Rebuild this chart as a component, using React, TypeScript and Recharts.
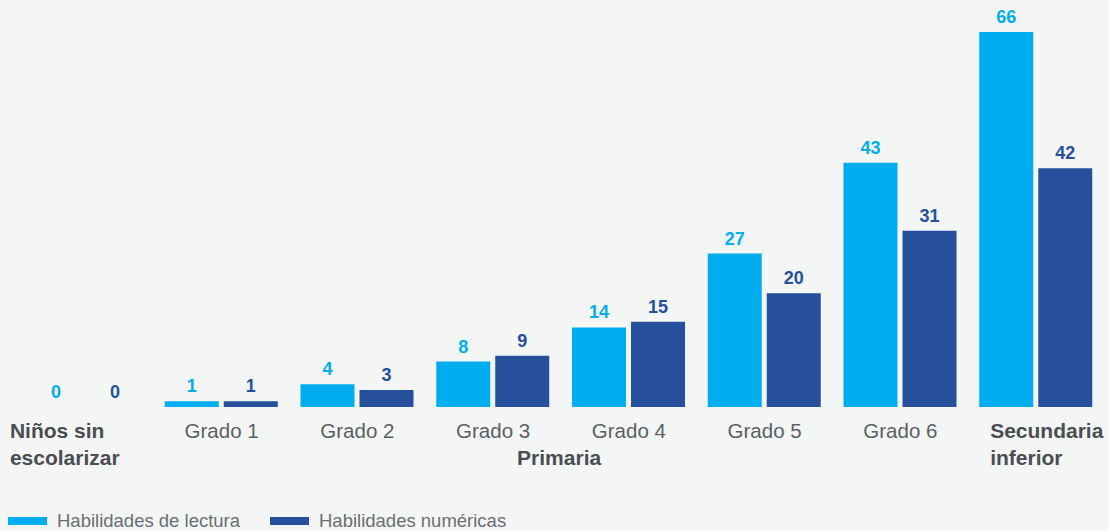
import React from "react";
import { Bar, BarChart, LabelList, XAxis, YAxis } from "recharts";

// Colores del gráfico
const LIGHT = "#00aeef";
const DARK = "#264f9c";
const BG = "#f4f6f6";
const TICK = "#5b5f63";
const BOLD_TICK = "#4a4d52";

const categories = [
  "Niños sin escolarizar",
  "Grado 1",
  "Grado 2",
  "Grado 3",
  "Grado 4",
  "Grado 5",
  "Grado 6",
  "Secundaria inferior",
];
const lectura = [0, 1, 4, 8, 14, 27, 43, 66];
const numericas = [0, 1, 3, 9, 15, 20, 31, 42];
const seriesNames = ["Habilidades de lectura", "Habilidades numéricas"];

const data = categories.map((name, i) => ({
  name,
  lectura: lectura[i],
  numericas: numericas[i],
}));

const FONT = "'Liberation Sans', Arial, sans-serif";

// las barras en cero se dibujan casi invisibles para que su etiqueta "0" aparezca
const zeroMin = (v: number) => (v === 0 ? 0.01 : 0);

function CategoryTick(props: any) {
  const { x, y, payload } = props;
  const i = payload.index;
  const base = y + 23;
  if (i === 0 || i === categories.length - 1) {
    const words = payload.value.split(" ");
    const lines = i === 0 ? [words[0] + " " + words[1], words[2]] : [words[0], words[1]];
    const left = i === 0 ? x - 76 : x - 46;
    return (
      <text x={left} y={base} textAnchor="start" fill={BOLD_TICK} fontSize={21} fontWeight={700} fontFamily={FONT}>
        <tspan x={left} dy={0}>{lines[0]}</tspan>
        <tspan x={left} dy={27}>{lines[1]}</tspan>
      </text>
    );
  }
  return (
    <g>
      <text x={x} y={base} textAnchor="middle" fill={TICK} fontSize={20.5} fontFamily={FONT}>
        {payload.value}
      </text>
      {payload.value === "Grado 3" && (
        <text x={x + 66} y={base + 27} textAnchor="middle" fill={BOLD_TICK} fontSize={21} fontWeight={700} fontFamily={FONT}>
          Primaria
        </text>
      )}
    </g>
  );
}

function LegendRow() {
  const item = (color: string, label: string, left: number) => (
    <div style={{ position: "absolute", left, top: 0, display: "flex", alignItems: "center" }}>
      <div style={{ width: 39, height: 8, background: color, marginRight: 10 }} />
      <span style={{ fontSize: 18.5, color: "#6a6e72", fontFamily: FONT }}>{label}</span>
    </div>
  );
  return (
    <div style={{ position: "absolute", left: 0, top: 510, width: 1109, height: 22 }}>
      {item(LIGHT, seriesNames[0], 8)}
      {item(DARK, seriesNames[1], 270)}
    </div>
  );
}

export default function App() {
  return (
    <div style={{ position: "fixed", left: 0, top: 0, width: 1109, height: 531, background: BG, overflow: "hidden" }}>
      <BarChart
        width={1109}
        height={531}
        data={data}
        margin={{ top: 32, right: 5, left: 18, bottom: 64 }}
        barSize={54}
        barGap={5}
      >
        <XAxis
          dataKey="name"
          axisLine={false}
          tickLine={false}
          interval={0}
          height={60}
          tick={<CategoryTick />}
        />
        <YAxis hide domain={[0, 66]} />
        <Bar dataKey="lectura" name={seriesNames[0]} fill={LIGHT} minPointSize={zeroMin} isAnimationActive={false}>
          <LabelList dataKey="lectura" position="top" offset={9} fill={LIGHT} fontSize={18} fontWeight={700} fontFamily={FONT} />
        </Bar>
        <Bar dataKey="numericas" name={seriesNames[1]} fill={DARK} minPointSize={zeroMin} isAnimationActive={false}>
          <LabelList dataKey="numericas" position="top" offset={9} fill={DARK} fontSize={18} fontWeight={700} fontFamily={FONT} />
        </Bar>
      </BarChart>
      <LegendRow />
    </div>
  );
}
